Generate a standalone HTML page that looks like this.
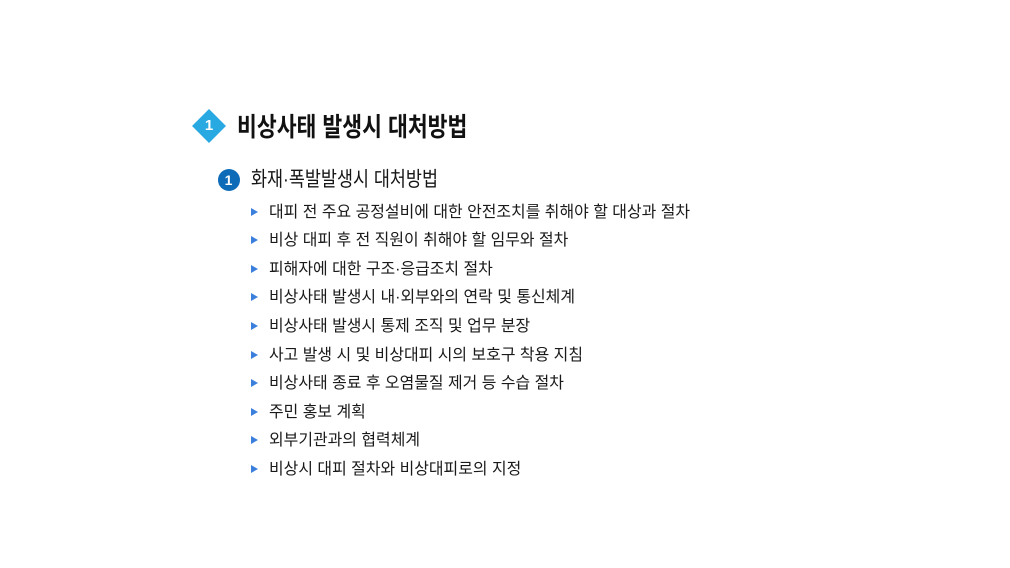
<!DOCTYPE html>
<html>
<head>
<meta charset="utf-8">
<style>
  html, body { margin:0; padding:0; }
  body { width:1010px; height:568px; background:#ffffff; position:relative; overflow:hidden;
         font-family:"Liberation Sans","Noto Sans CJK KR",sans-serif; color:#161616; }
  .abs { position:absolute; white-space:nowrap; }
  .title { left:237px; top:112px; font-size:26px; line-height:30px; font-weight:bold;
           transform:scaleX(0.83); transform-origin:0 50%; color:#111; }
  .diamond { left:197px; top:114px; width:24px; height:24px; background:#29a9e1;
             transform:rotate(45deg); }
  .dnum { left:192px; top:109px; width:34px; height:34px; line-height:34px; text-align:center;
          color:#fff; font-size:15px; font-weight:bold; }
  .circle { left:217.5px; top:168.5px; width:22px; height:22px; border-radius:50%;
            background:#0d6bb8; color:#fff; font-size:14px; font-weight:bold; line-height:22px;
            text-align:center; }
  .sub { left:251px; top:167.5px; font-size:20.5px; line-height:24px;
         transform:scaleX(0.85); transform-origin:0 50%; color:#161616; }
  .tri { position:absolute; left:251px; width:0; height:0;
         border-top:4px solid transparent; border-bottom:4px solid transparent;
         border-left:7.5px solid #3b7fdc; }
  .item { left:269px; font-size:16px; line-height:28px; transform:scaleX(0.996);
          transform-origin:0 50%; color:#1a1a1a; }
</style>
</head>
<body>
  <div class="abs diamond"></div>
  <div class="abs dnum">1</div>
  <div class="abs title">비상사태 발생시 대처방법</div>

  <div class="abs circle">1</div>
  <div class="abs sub">화재·폭발발생시 대처방법</div>

  <div class="tri" style="top:207.5px"></div>
  <div class="abs item" style="top:198.5px">대피 전 주요 공정설비에 대한 안전조치를 취해야 할 대상과 절차</div>

  <div class="tri" style="top:236.1px"></div>
  <div class="abs item" style="top:227.1px">비상 대피 후 전 직원이 취해야 할 임무와 절차</div>

  <div class="tri" style="top:264.7px"></div>
  <div class="abs item" style="top:255.7px">피해자에 대한 구조·응급조치 절차</div>

  <div class="tri" style="top:293.3px"></div>
  <div class="abs item" style="top:284.3px">비상사태 발생시 내·외부와의 연락 및 통신체계</div>

  <div class="tri" style="top:321.9px"></div>
  <div class="abs item" style="top:312.9px">비상사태 발생시 통제 조직 및 업무 분장</div>

  <div class="tri" style="top:350.5px"></div>
  <div class="abs item" style="top:341.5px">사고 발생 시 및 비상대피 시의 보호구 착용 지침</div>

  <div class="tri" style="top:379.1px"></div>
  <div class="abs item" style="top:370.1px">비상사태 종료 후 오염물질 제거 등 수습 절차</div>

  <div class="tri" style="top:407.7px"></div>
  <div class="abs item" style="top:398.7px">주민 홍보 계획</div>

  <div class="tri" style="top:436.3px"></div>
  <div class="abs item" style="top:427.3px">외부기관과의 협력체계</div>

  <div class="tri" style="top:464.9px"></div>
  <div class="abs item" style="top:455.9px">비상시 대피 절차와 비상대피로의 지정</div>
</body>
</html>
